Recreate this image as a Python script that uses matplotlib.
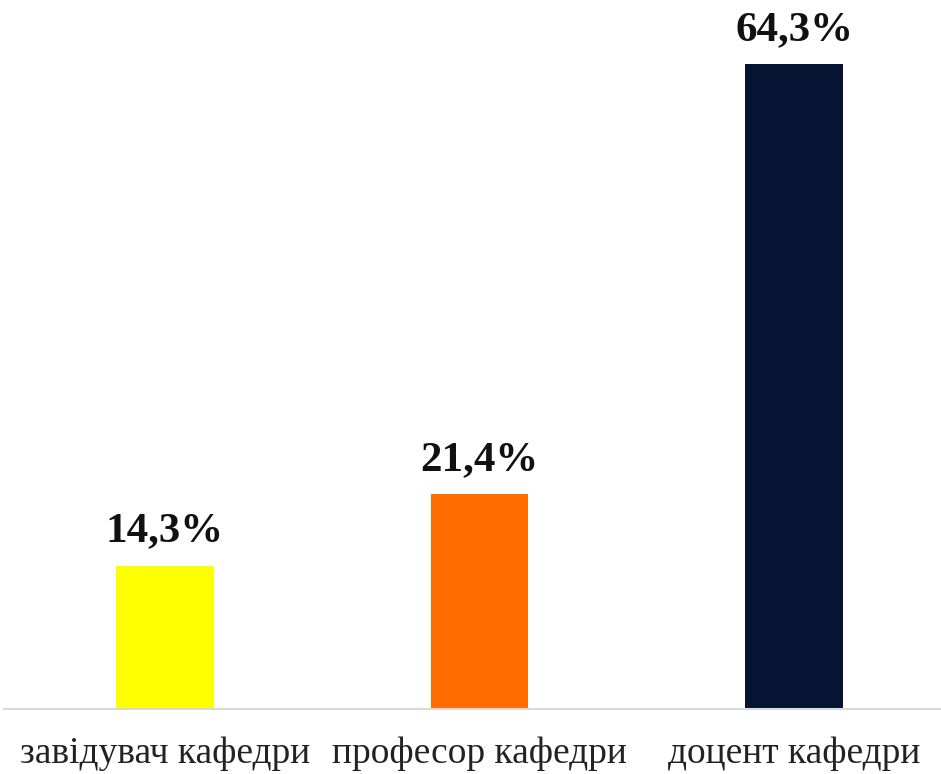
import matplotlib.pyplot as plt

categories = ["завідувач кафедри", "професор кафедри", "доцент кафедри"]
values = [14.3, 21.4, 64.3]
labels = ["14,3%", "21,4%", "64,3%"]
colors = ["#FFFF00", "#FF6D00", "#061333"]

plt.rcParams['font.family'] = ['Liberation Serif', 'DejaVu Serif']

fig = plt.figure(figsize=(9.41, 7.74), dpi=100)
ax = fig.add_axes([0.004, 0.084, 0.996, 0.916])

x = range(len(values))
ax.bar(x, values, width=0.31, color=colors, zorder=2)
for i, v in enumerate(values):
    ax.text(i, v + 1.5, labels[i], ha="center", va="bottom",
            fontsize=31, fontweight="bold", color="#111111")

ax.set_xlim(-0.512, 2.467)
ax.set_ylim(0, 70.7)
ax.set_yticks([])
ax.set_xticks(list(x))
ax.set_xticklabels(categories, fontsize=27, color="#222222")
ax.tick_params(axis="x", length=0, pad=20)
for s in ["top", "right", "left"]:
    ax.spines[s].set_visible(False)
ax.spines["bottom"].set_color("#D9D9D9")
ax.spines["bottom"].set_linewidth(1.5)

plt.savefig("out.png", dpi=100)
